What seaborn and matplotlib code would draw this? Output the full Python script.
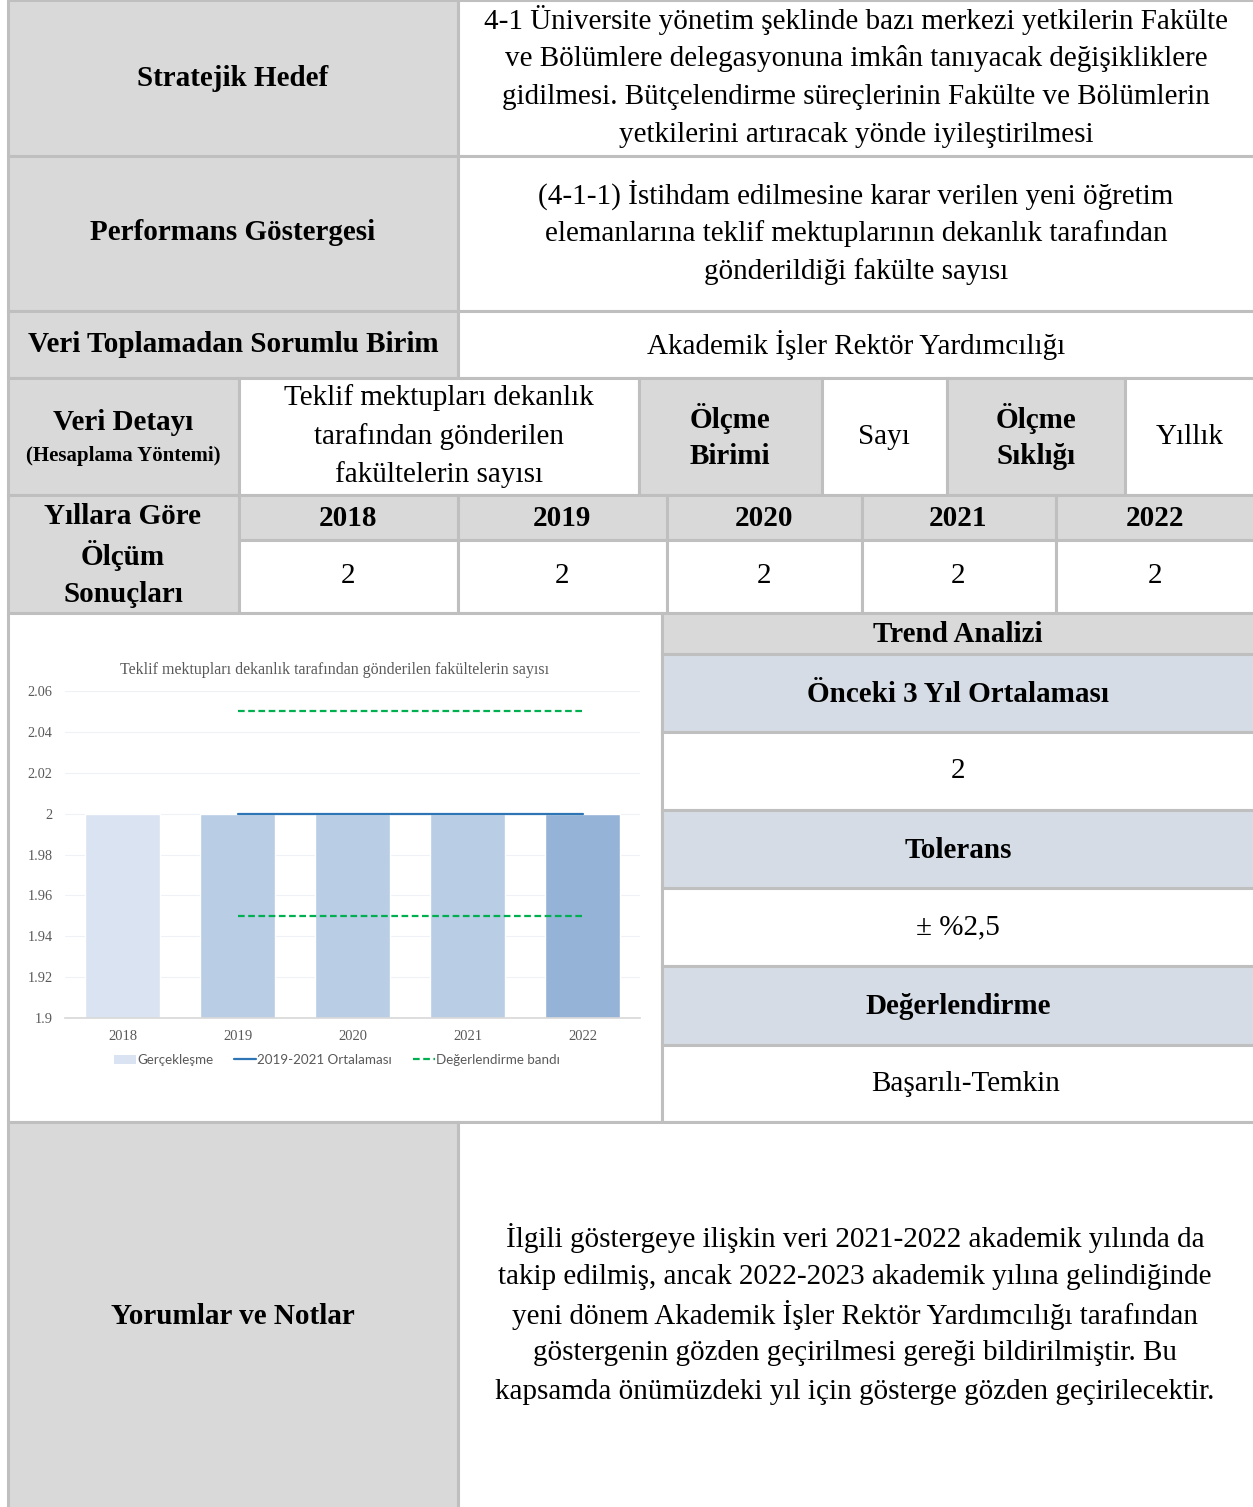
import matplotlib
matplotlib.use("Agg")
import matplotlib.pyplot as plt
import seaborn as sns
from matplotlib.patches import Rectangle, Patch
from matplotlib.lines import Line2D

# ----------------------------
# Data
# ----------------------------
years = ["2018", "2019", "2020", "2021", "2022"]
values = [2, 2, 2, 2, 2]
bar_colors = ["#DAE3F1", "#B9CDE5", "#B9CDE5", "#B9CDE5", "#95B3D7"]
avg_years = ["2019", "2020", "2021", "2022"]
avg_value = 2
tolerance = 0.025
band_upper = 2.05
band_lower = 1.95
y_ticks = [1.9, 1.92, 1.94, 1.96, 1.98, 2.0, 2.02, 2.04, 2.06]
y_ticklabels = ["1.9", "1.92", "1.94", "1.96", "1.98", "2", "2.02", "2.04", "2.06"]

chart_title = "Teklif mektupları dekanlık tarafından gönderilen fakültelerin sayısı"
legend_labels = ["Gerçekleşme", "2019-2021 Ortalaması", "Değerlendirme bandı"]

hedef_lines = ["4-1 Üniversite yönetim şeklinde bazı merkezi yetkilerin Fakülte",
               "ve Bölümlere delegasyonuna imkân tanıyacak değişikliklere",
               "gidilmesi. Bütçelendirme süreçlerinin Fakülte ve Bölümlerin",
               "yetkilerini artıracak yönde iyileştirilmesi"]
gosterge_lines = ["(4-1-1) İstihdam edilmesine karar verilen yeni öğretim",
                  "elemanlarına teklif mektuplarının dekanlık tarafından",
                  "gönderildiği fakülte sayısı"]
birim = "Akademik İşler Rektör Yardımcılığı"
detay_lines = ["Teklif mektupları dekanlık", "tarafından gönderilen", "fakültelerin sayısı"]
olcme_birimi = "Sayı"
olcme_sikligi = "Yıllık"
onceki_ort = "2"
tolerans_txt = "± %2,5"
degerlendirme = "Başarılı-Temkin"
notes_lines = ["İlgili göstergeye ilişkin veri 2021-2022 akademik yılında da",
               "takip edilmiş, ancak 2022-2023 akademik yılına gelindiğinde",
               "yeni dönem Akademik İşler Rektör Yardımcılığı tarafından",
               "göstergenin gözden geçirilmesi gereği bildirilmiştir. Bu",
               "kapsamda önümüzdeki yıl için gösterge gözden geçirilecektir."]

# ----------------------------
# Figure / table frame (pixel coordinates)
# ----------------------------
sns.set_theme(style="white")
plt.rcParams["font.family"] = ["Liberation Serif", "DejaVu Serif"]

W, H = 1253, 1507
fig = plt.figure(figsize=(W / 100, H / 100), dpi=100)
ax = fig.add_axes([0, 0, 1, 1])
ax.set_xlim(0, W)
ax.set_ylim(H, 0)
ax.axis("off")

GRAY = "#D9D9D9"
BLUE = "#D6DCE5"
WHITE = "#FFFFFF"
EDGE = "#BFBFBF"
R = 1256

cells = [
    (8, 0, 458, 156, GRAY), (458, 0, R, 156, WHITE),
    (8, 156, 458, 311, GRAY), (458, 156, R, 311, WHITE),
    (8, 311, 458, 378, GRAY), (458, 311, R, 378, WHITE),
    (8, 378, 239, 495, GRAY), (239, 378, 639, 495, WHITE),
    (639, 378, 822, 495, GRAY), (822, 378, 947, 495, WHITE),
    (947, 378, 1125, 495, GRAY), (1125, 378, R, 495, WHITE),
    (8, 495, 239, 613, GRAY),
    (239, 495, 458, 540, GRAY), (458, 495, 667, 540, GRAY), (667, 495, 862, 540, GRAY),
    (862, 495, 1056, 540, GRAY), (1056, 495, R, 540, GRAY),
    (239, 540, 458, 613, WHITE), (458, 540, 667, 613, WHITE), (667, 540, 862, 613, WHITE),
    (862, 540, 1056, 613, WHITE), (1056, 540, R, 613, WHITE),
    (8, 613, 662, 1122, WHITE),
    (662, 613, R, 654, GRAY), (662, 654, R, 732, BLUE), (662, 732, R, 810, WHITE),
    (662, 810, R, 888, BLUE), (662, 888, R, 966, WHITE), (662, 966, R, 1045, BLUE),
    (662, 1045, R, 1122, WHITE),
    (8, 1122, 458, 1512, GRAY), (458, 1122, R, 1512, WHITE),
]
for x0, y0, x1, y1, fc in cells:
    ax.add_patch(Rectangle((x0, y0), x1 - x0, y1 - y0, facecolor=fc,
                           edgecolor=EDGE, linewidth=2.2))

FS = 21
LS = 38.5
DY = 2  # small baseline nudge


def lines(xc, yc_first, txt_lines, **kw):
    for i, t in enumerate(txt_lines):
        ax.text(xc, yc_first + DY + i * LS, t, ha="center", va="center", fontsize=FS,
                color="black", **kw)


lines(233, 76, ["Stratejik Hedef"], fontweight="bold")
lines(856, 18, hedef_lines)
lines(233, 231, ["Performans Göstergesi"], fontweight="bold")
lines(856, 193, gosterge_lines)
lines(233, 343, ["Veri Toplamadan Sorumlu Birim"], fontweight="bold")
lines(856, 343, [birim])
lines(123, 421, ["Veri Detayı"], fontweight="bold")
ax.text(123, 456, "(Hesaplama Yöntemi)", ha="center", va="center", fontsize=15,
        fontweight="bold", color="black")
lines(439, 396, detay_lines)
lines(730, 416, ["Ölçme", "Birimi"], fontweight="bold")
lines(884, 435, [olcme_birimi])
lines(1036, 416, ["Ölçme", "Sıklığı"], fontweight="bold")
lines(1190, 435, [olcme_sikligi])
lines(123, 515, ["Yıllara Göre", "Ölçüm", "Sonuçları"], fontweight="bold")
year_x = [348, 562, 764, 958, 1155]
for xc, yr, v in zip(year_x, years, values):
    ax.text(xc, 516 + DY, yr, ha="center", va="center", fontsize=FS, fontweight="bold", color="black")
    ax.text(xc, 574 + DY, f"{v:g}", ha="center", va="center", fontsize=FS, color="black")

lines(958, 632, ["Trend Analizi"], fontweight="bold")
lines(958, 692, ["Önceki 3 Yıl Ortalaması"], fontweight="bold")
lines(958, 769, [onceki_ort])
lines(958, 848, ["Tolerans"], fontweight="bold")
lines(958, 925, [tolerans_txt])
lines(958, 1004, ["Değerlendirme"], fontweight="bold")
lines(966, 1082, [degerlendirme])
lines(233, 1314, ["Yorumlar ve Notlar"], fontweight="bold")
lines(855, 1236, notes_lines)

# ----------------------------
# Embedded bar chart
# ----------------------------
L, Rt, T, B = 65, 640, 691, 1018
axc = fig.add_axes([L / W, 1 - B / H, (Rt - L) / W, (B - T) / H])
axc.set_facecolor("white")
sns.barplot(x=years, y=values, hue=years, palette=bar_colors, legend=False,
            width=0.66, saturation=1, ax=axc)

pos = [years.index(y) for y in avg_years]
axc.plot(pos, [avg_value] * len(pos), color="#2E75B6", lw=1.6, zorder=4)
axc.plot(pos, [band_upper] * len(pos), color="#00B050", lw=1.6, ls=(0, (3, 1.6)), zorder=4)
axc.plot(pos, [band_lower] * len(pos), color="#00B050", lw=1.6, ls=(0, (3, 1.6)), zorder=4)

axc.set_ylim(y_ticks[0], y_ticks[-1])
axc.set_xlim(-0.5, len(years) - 0.5)
axc.set_yticks(y_ticks)
axc.set_yticklabels(y_ticklabels)
axc.yaxis.grid(True, color="#EEF1F6", lw=0.8)
axc.set_axisbelow(True)
for s in ["top", "right", "left"]:
    axc.spines[s].set_visible(False)
axc.spines["bottom"].set_color("#D9D9D9")
axc.tick_params(axis="y", length=0, labelsize=10.3, colors="#595959", pad=9)
axc.tick_params(axis="x", length=0, labelsize=10.5, colors="#595959", pad=9)
axc.set_xlabel("")
axc.set_ylabel("")
axc.set_title(chart_title, fontsize=11.5, color="#595959", pad=12,
              x=(335 - L) / (Rt - L))

handles = [Patch(facecolor=bar_colors[0], edgecolor="none"),
           Line2D([], [], color="#2E75B6", lw=1.6),
           Line2D([], [], color="#00B050", lw=1.6, ls=(0, (3, 1.6)))]
axc.legend(handles, legend_labels, loc="center", ncol=3, frameon=False,
           bbox_to_anchor=((337 - L) / (Rt - L), -(1060 - B) / (B - T)),
           prop={"family": ["Lato", "DejaVu Sans"], "size": 9.6},
           labelcolor="#595959", handlelength=1.6, handletextpad=0.1,
           columnspacing=1.6)

plt.savefig("out.png", dpi=100)
plt.close()
